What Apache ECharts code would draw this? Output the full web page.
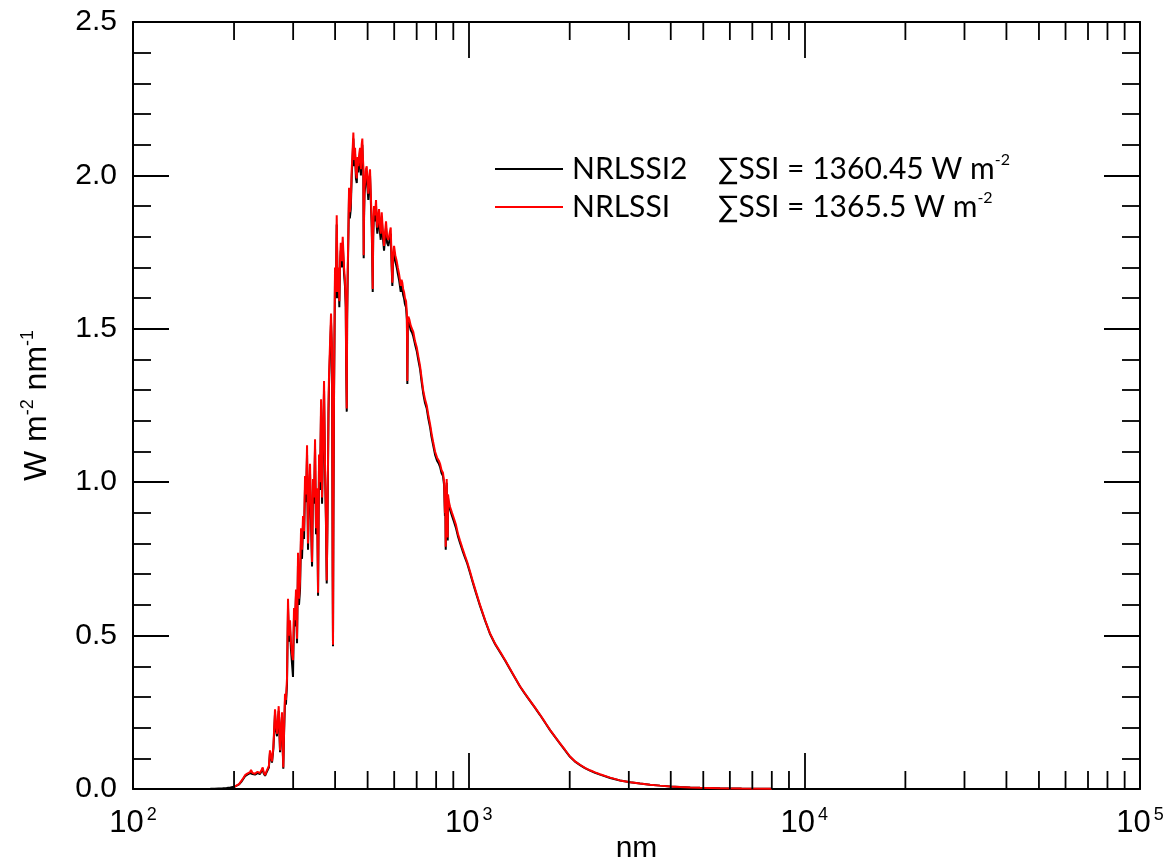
<!DOCTYPE html>
<html><head><meta charset="utf-8">
<script src="https://cdn.jsdelivr.net/npm/echarts@6/dist/echarts.min.js"></script>
<style>html,body{margin:0;padding:0;background:#fff}#c{width:1165px;height:863px}</style>
</head><body><div id="c"></div>
<script>
const seriesNames = ['NRLSSI2', 'NRLSSI'];
const ssiTotals = ['1360.45', '1365.5'];

// far-UV part only present in NRLSSI2 (nm, W m-2 nm-1)
const farUvWl = [115, 118, 120.5, 121.6, 122.7, 125, 130, 140, 150, 160, 170, 175, 180, 185, 190, 195];
const farUvNrlssi2 = [0.00002, 0.00005, 0.0003, 0.006, 0.0003, 0.00005, 0.0001, 0.0001, 0.0002, 0.0003, 0.0006, 0.001, 0.0018, 0.0025, 0.0035, 0.005];

// far-IR tail only present in NRLSSI2
const farIrWl = [10000, 20000, 50000, 100000];
const farIrNrlssi2 = [0.0003, 0.00002, 0.000001, 0.0000001];

const wavelengths = [
 200,203.7,207,210.8,213,215.7,219,223.2,224.7,227,231,235,239,241,243.5,245,247.4,250,252.5,254,
 255.9,257.5,259.5,262,264.9,267,268.5,270,271.7,274.2,276,277.9,279,280.4,282,283.7,285.5,287.6,289.6,291.5,
 293.6,295.5,297.6,299.7,301.8,303.8,305.9,308.1,310.2,312.3,314.5,316.7,318.8,321.0,323.3,325.5,327.7,330.0,332.2,334.5,
 336.8,339.0,341.5,343.8,346.2,348.6,351.0,353.5,355.9,358.3,360.8,363.3,365.8,368.3,370.8,373.3,375.5,377.7,379.3,381.0,
 382.3,383.7,386.3,389.0,391.6,393.4,394.3,395.5,397.1,399.8,402.0,404.5,407.3,409.5,411.8,413.8,415.8,418.5,421.5,423.4,
 425.3,428.0,430.3,431.5,433.3,434.5,436.2,438.2,440.2,442.5,445.4,448.4,451.0,453.4,456.0,458.7,461.5,464.1,466.5,469.2,
 472.0,474.7,477.5,480.0,482.2,484.0,485.5,486.7,487.9,489.5,491.3,494.0,497.0,499.5,502.3,505.0,508.3,511.0,514.2,516.0,
 517.8,519.5,522.4,526.0,529.7,532.0,534.4,537.5,540.7,543.5,547.0,550.8,555.0,559.6,563.0,567.3,571.5,576.3,581.0,585.9,
 589.5,592.4,595.5,599.4,604.5,610.5,615.0,620.2,624.0,627.5,631.0,634.5,638.0,641.9,646.0,650.8,654.5,656.6,658.5,661.2,
 666.0,672.1,678.0,684.0,692.0,700.2,708.0,716.2,724.0,732.0,741.3,750.0,758.0,767.2,775.0,784.0,794.0,805.0,815.0,821.7,
 830.0,838.7,845.0,849.8,852.0,854.4,856.5,860.2,862.0,866.2,868.0,872.0,880.0,892.1,905.0,917.0,930.0,942.3,958.0,975.2,
 990,1009,1030,1050,1081,1120,1157,1200,1240,1285,1328,1375,1422,1470,1523,1575,1632,1690,1747,1810,
 1871,1935,2004,2070,2147,2220,2299,2380,2463,2640,2824,3030,3239,3470,3715,3980,4262,4570,4888,5608,
 6500,8000
];

const nrlssi = [
 0.006,0.012,0.016,0.028,0.035,0.045,0.050,0.055,0.062,0.052,0.050,0.056,0.052,0.060,0.070,0.055,0.045,0.058,0.055,0.075,
 0.126,0.110,0.090,0.140,0.260,0.200,0.180,0.220,0.270,0.126,0.200,0.250,0.150,0.070,0.200,0.310,0.290,0.360,0.620,0.500,
 0.550,0.480,0.440,0.420,0.590,0.550,0.650,0.490,0.770,0.620,0.680,0.850,0.780,0.890,0.840,1.020,0.960,1.120,0.800,0.980,
 1.060,0.900,0.740,1.010,0.950,1.140,0.850,0.980,0.640,1.090,1.000,1.270,0.950,1.150,1.330,1.060,0.900,0.680,0.850,1.060,
 1.250,1.350,1.450,1.550,1.440,0.700,0.470,0.900,1.300,1.700,1.620,1.870,1.620,1.700,1.590,1.720,1.780,1.720,1.800,1.750,
 1.700,1.660,1.590,1.400,1.240,1.550,1.690,1.820,1.960,1.880,1.910,2.020,2.080,2.140,2.050,2.090,2.010,1.990,2.060,2.030,
 2.070,2.090,2.020,2.100,2.120,2.060,2.030,1.740,1.880,1.960,1.980,2.020,2.030,1.980,1.940,1.990,2.020,1.940,1.850,1.750,
 1.630,1.820,1.900,1.870,1.920,1.860,1.830,1.870,1.890,1.840,1.810,1.880,1.820,1.770,1.810,1.850,1.800,1.790,1.810,1.830,
 1.720,1.650,1.740,1.770,1.740,1.720,1.700,1.680,1.660,1.640,1.660,1.650,1.630,1.620,1.600,1.590,1.550,1.330,1.520,1.540,
 1.530,1.510,1.500,1.490,1.460,1.440,1.410,1.380,1.340,1.300,1.270,1.250,1.220,1.190,1.160,1.130,1.100,1.080,1.070,1.060,
 1.040,1.030,1.000,0.900,0.950,0.790,0.950,1.010,0.920,0.820,0.960,0.940,0.920,0.900,0.880,0.860,0.830,0.810,0.785,0.760,
 0.740,0.710,0.675,0.645,0.600,0.550,0.508,0.473,0.448,0.420,0.392,0.363,0.335,0.312,0.288,0.266,0.242,0.217,0.193,0.170,
 0.149,0.128,0.106,0.091,0.079,0.069,0.061,0.054,0.048,0.037,0.028,0.022,0.018,0.014,0.011,0.0085,0.0065,0.005,0.0038,0.0022,
 0.0013,0.0006
];

const nrlssi2 = [
 0.007,0.011,0.015,0.025,0.033,0.042,0.047,0.052,0.058,0.049,0.047,0.052,0.049,0.056,0.066,0.051,0.043,0.054,0.052,0.070,
 0.118,0.104,0.086,0.132,0.245,0.190,0.172,0.210,0.255,0.120,0.190,0.238,0.142,0.066,0.190,0.290,0.275,0.340,0.590,0.480,
 0.520,0.455,0.410,0.365,0.565,0.530,0.630,0.475,0.745,0.600,0.650,0.820,0.750,0.860,0.815,0.990,0.935,1.090,0.780,0.955,
 1.030,0.880,0.725,0.985,0.930,1.110,0.830,0.960,0.630,1.070,0.975,1.240,0.930,1.125,1.300,1.040,0.885,0.670,0.835,1.040,
 1.225,1.320,1.420,1.520,1.415,0.690,0.465,0.885,1.275,1.670,1.600,1.840,1.600,1.680,1.570,1.700,1.755,1.700,1.780,1.730,
 1.680,1.640,1.570,1.385,1.230,1.530,1.670,1.800,1.940,1.860,1.890,2.000,2.060,2.120,2.030,2.070,1.990,1.975,2.040,2.010,
 2.050,2.070,2.000,2.080,2.100,2.040,2.010,1.730,1.860,1.940,1.960,2.000,2.010,1.960,1.920,1.970,2.000,1.920,1.830,1.735,
 1.620,1.800,1.880,1.850,1.900,1.840,1.810,1.850,1.870,1.820,1.790,1.860,1.800,1.755,1.790,1.830,1.780,1.770,1.790,1.810,
 1.705,1.640,1.720,1.750,1.720,1.700,1.680,1.660,1.640,1.620,1.640,1.630,1.610,1.600,1.580,1.570,1.530,1.320,1.500,1.525,
 1.515,1.495,1.488,1.475,1.450,1.428,1.398,1.370,1.328,1.290,1.258,1.240,1.208,1.180,1.148,1.120,1.090,1.070,1.060,1.050,
 1.030,1.020,0.990,0.890,0.940,0.780,0.940,0.998,0.910,0.810,0.948,0.930,0.910,0.890,0.870,0.850,0.822,0.802,0.778,0.754,
 0.735,0.705,0.671,0.641,0.597,0.548,0.506,0.471,0.446,0.418,0.390,0.362,0.334,0.311,0.287,0.265,0.241,0.216,0.192,0.169,
 0.148,0.127,0.105,0.090,0.078,0.068,0.060,0.053,0.047,0.036,0.028,0.022,0.018,0.014,0.011,0.0085,0.0065,0.005,0.0038,0.0022,
 0.0013,0.0006
];

const xMinorTicks = [200,300,400,500,600,700,800,900,2000,3000,4000,5000,6000,7000,8000,9000,20000,30000,40000,50000,60000,70000,80000,90000];

const AX = 'Liberation Sans, Arial, Helvetica, sans-serif';
const LEG = 'Lato, Noto Sans, sans-serif';

const pair = (xs, ys) => xs.map((x, i) => [x, ys[i]]);
const data2 = pair(farUvWl, farUvNrlssi2).concat(pair(wavelengths, nrlssi2)).concat(pair(farIrWl, farIrNrlssi2));
const data1 = pair(wavelengths, nrlssi);

const chart = echarts.init(document.getElementById('c'), null, {renderer: 'canvas'});
const lineAx = {show: true, lineStyle: {color: '#000', width: 2}};
const tickBig = {show: true, inside: true, length: 36, lineStyle: {color: '#000', width: 1.8}};
const minorY = {show: true, splitNumber: 5, length: 18, lineStyle: {color: '#000', width: 1.8}};

chart.setOption({
  animation: false,
  backgroundColor: '#fff',
  grid: {left: 133, right: 25, top: 22, bottom: 74, containLabel: false, outerBoundsMode: 'none'},
  legend: {
    data: seriesNames,
    left: 495, top: 152, padding: 0,
    orient: 'vertical',
    icon: 'rect',
    itemWidth: 68, itemHeight: 2, itemGap: 4,
    selectedMode: false,
    formatter: function (name) {
      const i = seriesNames.indexOf(name);
      return '{n|' + name + '}{s|\u2211SSI = ' + ssiTotals[i] + ' W m}{p|-2}';
    },
    textStyle: {
      color: '#000', fontFamily: LEG, fontSize: 30, lineHeight: 34,
      rich: {
        n: {fontFamily: LEG, fontSize: 30, width: 146, padding: [0, 0, 0, 4], color: '#000', lineHeight: 34},
        s: {fontFamily: LEG, fontSize: 30, color: '#000', lineHeight: 34},
        p: {fontFamily: LEG, fontSize: 16, color: '#000', verticalAlign: 'top', lineHeight: 18}
      }
    }
  },
  xAxis: [{
    type: 'log', logBase: 10, min: 100, max: 100000, position: 'bottom',
    axisLine: Object.assign({onZero: false}, lineAx),
    axisTick: tickBig,
    splitLine: {show: false},
    axisLabel: {
      margin: 17, fontFamily: AX, fontSize: 31, color: '#000',
      formatter: function (v) { return '{b|10}{e|' + Math.round(Math.log10(v)) + '}'; },
      rich: {
        b: {fontFamily: AX, fontSize: 31, color: '#000', lineHeight: 34},
        e: {fontFamily: AX, fontSize: 18, color: '#000', verticalAlign: 'top', lineHeight: 20, padding: [0, 0, 0, 3]}
      }
    },
    name: 'nm', nameLocation: 'middle', nameGap: 45, nameMoveOverlap: false,
    nameTextStyle: {fontFamily: AX, fontSize: 30, color: '#000'}
  }, {
    type: 'log', logBase: 10, min: 100, max: 100000, position: 'top',
    axisLine: Object.assign({onZero: false}, lineAx),
    axisTick: tickBig,
    axisLabel: {show: false},
    splitLine: {show: false}
  }],
  yAxis: [{
    type: 'value', min: 0, max: 2.5, interval: 0.5, position: 'left',
    axisLine: Object.assign({onZero: false}, lineAx),
    axisTick: tickBig,
    minorTick: minorY,
    splitLine: {show: false},
    axisLabel: {
      margin: 16, fontFamily: AX, fontSize: 30, color: '#000',
      formatter: function (v) { return v.toFixed(1); }
    },
    name: '{a|W m}{s|-2}{a| nm}{s|-1}', nameLocation: 'middle', nameGap: 78, nameMoveOverlap: false,
    nameTextStyle: {
      fontFamily: AX, fontSize: 32, color: '#000',
      rich: {
        a: {fontFamily: AX, fontSize: 32, color: '#000', lineHeight: 36},
        s: {fontFamily: AX, fontSize: 18, color: '#000', verticalAlign: 'top', lineHeight: 20}
      }
    }
  }, {
    type: 'value', min: 0, max: 2.5, interval: 0.5, position: 'right',
    axisLine: Object.assign({onZero: false}, lineAx),
    axisTick: tickBig,
    minorTick: minorY,
    axisLabel: {show: false},
    splitLine: {show: false}
  }],
  series: [{
    name: seriesNames[0], type: 'line', xAxisIndex: 0, yAxisIndex: 0,
    data: data2, showSymbol: false, symbol: 'none', z: 3,
    lineStyle: {color: '#000', width: 2}, itemStyle: {color: '#000'}
  }, {
    name: seriesNames[1], type: 'line', xAxisIndex: 0, yAxisIndex: 0,
    data: data1, showSymbol: false, symbol: 'none', z: 4,
    lineStyle: {color: '#ff0000', width: 2}, itemStyle: {color: '#ff0000'}
  }, {
    name: 'minorTicks', type: 'custom', xAxisIndex: 0, yAxisIndex: 0,
    silent: true, z: 5, clip: false,
    data: xMinorTicks.map(v => [v, 0]),
    renderItem: function (params, api) {
      const b = api.coord([api.value(0), 0]);
      const t = api.coord([api.value(0), 2.5]);
      const st = {stroke: '#000', lineWidth: 1.8};
      return {type: 'group', children: [
        {type: 'line', shape: {x1: b[0], y1: b[1], x2: b[0], y2: b[1] - 18}, style: st},
        {type: 'line', shape: {x1: t[0], y1: t[1], x2: t[0], y2: t[1] + 18}, style: st}
      ]};
    }
  }]
});
</script></body></html>
